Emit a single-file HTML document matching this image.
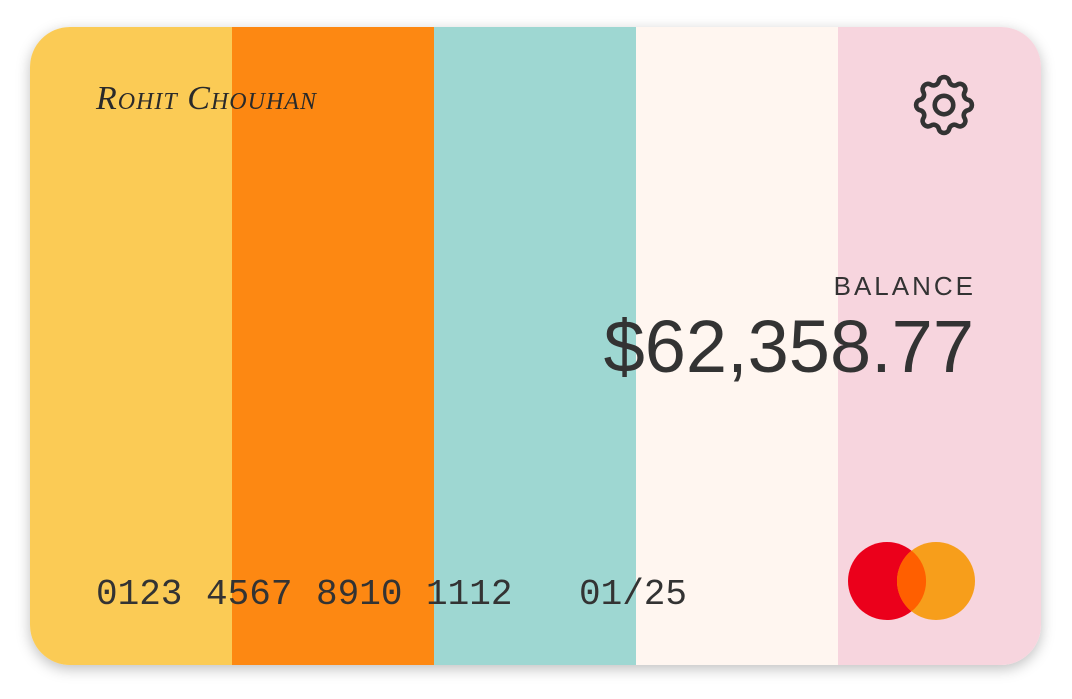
<!DOCTYPE html>
<html><head><meta charset="utf-8"><style>
html,body{margin:0;padding:0;width:1072px;height:699px;background:#fff;overflow:hidden}
.card{position:absolute;left:30px;top:27px;width:1011px;height:638px;border-radius:40px;overflow:hidden;box-shadow:0 4px 14px rgba(0,0,0,0.25);display:flex}
.s{height:100%}
.t{position:absolute;color:#333;white-space:nowrap}
</style></head><body>
<div class="card">
  <div class="s" style="width:202px;background:#FBCB55"></div>
  <div class="s" style="width:202px;background:#FD8812"></div>
  <div class="s" style="width:202px;background:#9ED7D2"></div>
  <div class="s" style="width:202px;background:#FFF6F0"></div>
  <div class="s" style="width:203px;background:#F7D5DE"></div>
</div>
<div class="t" style="left:96px;top:80px;font:italic 34px 'Liberation Serif',serif;font-variant:small-caps;letter-spacing:1px;color:#2a2a2a">Rohit Chouhan</div>
<svg style="position:absolute;left:907px;top:68px" width="74" height="74" viewBox="0 0 24 24" fill="none" stroke="#333" stroke-width="1.5" stroke-linecap="round" stroke-linejoin="round">
<path d="M10.3 4.3c.4-1.8 3-1.8 3.4 0a1.7 1.7 0 0 0 2.6 1.1c1.5-.9 3.300.8 2.4 2.4a1.7 1.7 0 0 0 1 2.5c1.8.4 1.8 3 0 3.4a1.7 1.7 0 0 0-1 2.6c.9 1.5-.9 3.3-2.4 2.4a1.7 1.7 0 0 0-2.6 1c-.4 1.8-3 1.8-3.4 0a1.7 1.7 0 0 0-2.6-1c-1.5.9-3.3-.9-2.4-2.4a1.7 1.7 0 0 0-1-2.6c-1.8-.4-1.8-3 0-3.4a1.7 1.700 0 0 0 1-2.5c-.9-1.6.9-3.3 2.4-2.4 1 .6 2.3.1 2.6-1.1z"/>
<circle cx="12" cy="12" r="3"/></svg>
<div class="t" style="right:96px;top:271px;font:26px 'Liberation Sans',sans-serif;letter-spacing:3px">BALANCE</div>
<div class="t" style="right:98px;top:304px;font:74px 'Liberation Sans',sans-serif;letter-spacing:0px">$62,358.77</div>
<div class="t" style="left:96px;top:574px;font:36px 'Liberation Mono',monospace;word-spacing:2px">0123 4567 8910 1112</div>
<div class="t" style="left:579px;top:574px;font:36px 'Liberation Mono',monospace">01/25</div>
<svg style="position:absolute;left:846px;top:540px" width="132" height="82" viewBox="0 0 132 82">
<circle cx="41" cy="41" r="39" fill="#EB001B"/>
<circle cx="90" cy="41" r="39" fill="#F79E1B"/>
<path d="M65.5 10.6 A39 39 0 0 1 65.5 71.4 A39 39 0 0 1 65.5 10.6Z" fill="#FF5F00"/>
</svg>
</body></html>
